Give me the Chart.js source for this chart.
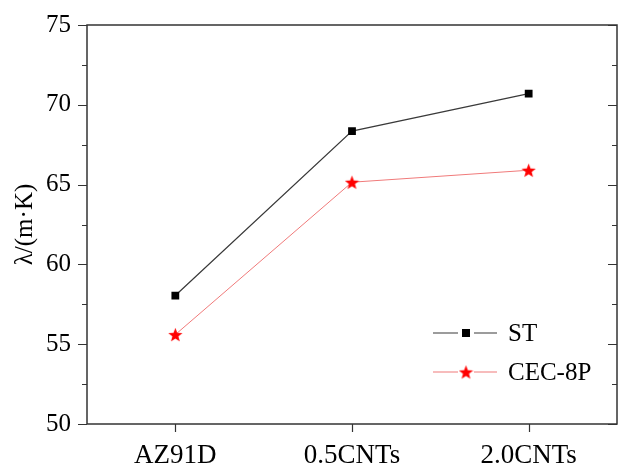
<!DOCTYPE html>
<html>
<head>
<meta charset="utf-8">
<script src="https://cdn.jsdelivr.net/npm/chart.js@4"></script>
<style>
  html, body { margin: 0; padding: 0; background: #fff; }
  #wrap { width: 618px; height: 465px; }
</style>
</head>
<body>
<div id="wrap"><canvas id="chart" width="618" height="465"></canvas></div>
<script>
'use strict';

// ─── Data ───────────────────────────────────────────────────────────────────
const categories = ['AZ91D', '0.5CNTs', '2.0CNTs'];
const stValues = [58.05, 68.35, 70.7];
const cecValues = [55.6, 65.15, 65.9];
const yTicks = [50, 55, 60, 65, 70, 75];
const seriesNames = ['ST', 'CEC-8P'];

const FONT = '"Liberation Serif", "Times New Roman", serif';
const AXIS = '#333';

// filled five-point star used as point style
function makeStar(size, color) {
  const c = document.createElement('canvas');
  c.width = size; c.height = size;
  const g = c.getContext('2d');
  const cx = size / 2, cy = size / 2 + size * 0.05;
  const ro = size / 2, ri = ro * 0.42;
  g.beginPath();
  for (let i = 0; i < 10; i++) {
    const r = i % 2 ? ri : ro;
    const a = -Math.PI / 2 + i * Math.PI / 5;
    g.lineTo(cx + r * Math.cos(a), cy + r * Math.sin(a));
  }
  g.closePath();
  g.fillStyle = color;
  g.fill();
  return c;
}
const star = makeStar(15, '#ff0000');

// ─── Frame, ticks and legend ────────────────────────────────────────────────
const framePlugin = {
  id: 'frame',
  afterDraw(chart) {
    const { ctx, chartArea: a, scales } = chart;
    ctx.save();
    ctx.strokeStyle = AXIS;
    ctx.lineWidth = 1.5;
    ctx.strokeRect(a.left, a.top, a.right - a.left, a.bottom - a.top);

    // y ticks: major outward on left, inward on right, minor in between
    ctx.lineWidth = 1.2;
    for (let v = 50; v <= 75; v += 2.5) {
      const y = Math.round(scales.y.getPixelForValue(v)) + 0.5;
      const major = v % 5 === 0;
      const len = major ? 9 : 5;
      ctx.beginPath();
      ctx.moveTo(a.left - len, y); ctx.lineTo(a.left, y);
      ctx.moveTo(a.right, y); ctx.lineTo(a.right - len, y);
      ctx.stroke();
    }
    // x ticks
    categories.forEach((c, i) => {
      const x = Math.round(scales.x.getPixelForValue(i)) + 0.5;
      ctx.beginPath();
      ctx.moveTo(x, a.bottom); ctx.lineTo(x, a.bottom + 8);
      ctx.stroke();
    });

    // legend
    const rows = [
      { y: 333, line: chart.data.datasets[0].borderColor, mark: 'rect' },
      { y: 372, line: chart.data.datasets[1].borderColor, mark: 'star' },
    ];
    ctx.font = '25px ' + FONT;
    ctx.textBaseline = 'middle';
    rows.forEach((r, i) => {
      ctx.strokeStyle = r.line;
      ctx.lineWidth = 1.2;
      ctx.beginPath();
      ctx.moveTo(433, r.y); ctx.lineTo(458, r.y);
      ctx.moveTo(474, r.y); ctx.lineTo(497, r.y);
      ctx.stroke();
      if (r.mark === 'rect') {
        ctx.fillStyle = '#000';
        ctx.fillRect(462, r.y - 4, 8, 8);
      } else {
        ctx.drawImage(star, 466 - 7.5, r.y - 7.5);
      }
      ctx.fillStyle = '#000';
      ctx.fillText(seriesNames[i], 508, r.y + 1);
    });
    ctx.restore();
  }
};

// ─── Chart ──────────────────────────────────────────────────────────────────
new Chart(document.getElementById('chart'), {
  type: 'line',
  data: {
    labels: categories,
    datasets: [
      {
        label: seriesNames[0],
        data: stValues,
        borderColor: '#3a3a3a',
        borderWidth: 1.2,
        pointStyle: 'rect',
        pointRadius: 5.5,
        pointBackgroundColor: '#000',
        pointBorderColor: '#000',
        pointBorderWidth: 0,
        tension: 0,
      },
      {
        label: seriesNames[1],
        data: cecValues,
        borderColor: '#f07a7a',
        borderWidth: 1,
        pointStyle: star,
        pointRadius: 7,
        tension: 0,
      }
    ]
  },
  options: {
    responsive: false,
    animation: false,
    layout: { autoPadding: false, padding: { top: 25, right: 1, left: 0, bottom: 0 } },
    plugins: { legend: { display: false }, tooltip: { enabled: false } },
    scales: {
      x: {
        offset: true,
        grid: { drawOnChartArea: false, drawTicks: false, color: 'transparent' },
        border: { display: false },
        ticks: { color: '#000', font: { family: FONT, size: 27 }, padding: 16, maxRotation: 0 },
        afterFit(s) { s.height = 41; s.paddingLeft = 0; s.paddingRight = 0; }
      },
      y: {
        min: 50,
        max: 75,
        afterBuildTicks(s) { s.ticks = yTicks.map(v => ({ value: v })); },
        grid: { drawOnChartArea: false, drawTicks: false, color: 'transparent' },
        border: { display: false },
        ticks: { color: '#000', font: { family: FONT, size: 25 }, padding: 16 },
        title: {
          display: true,
          text: 'λ/(m·K)',
          color: '#000',
          font: { family: FONT, size: 25 },
          padding: { top: 10, bottom: 0 }
        },
        afterFit(s) { s.width = 87; s.paddingTop = 0; s.paddingBottom = 0; }
      }
    }
  },
  plugins: [framePlugin]
});
</script>
</body>
</html>
